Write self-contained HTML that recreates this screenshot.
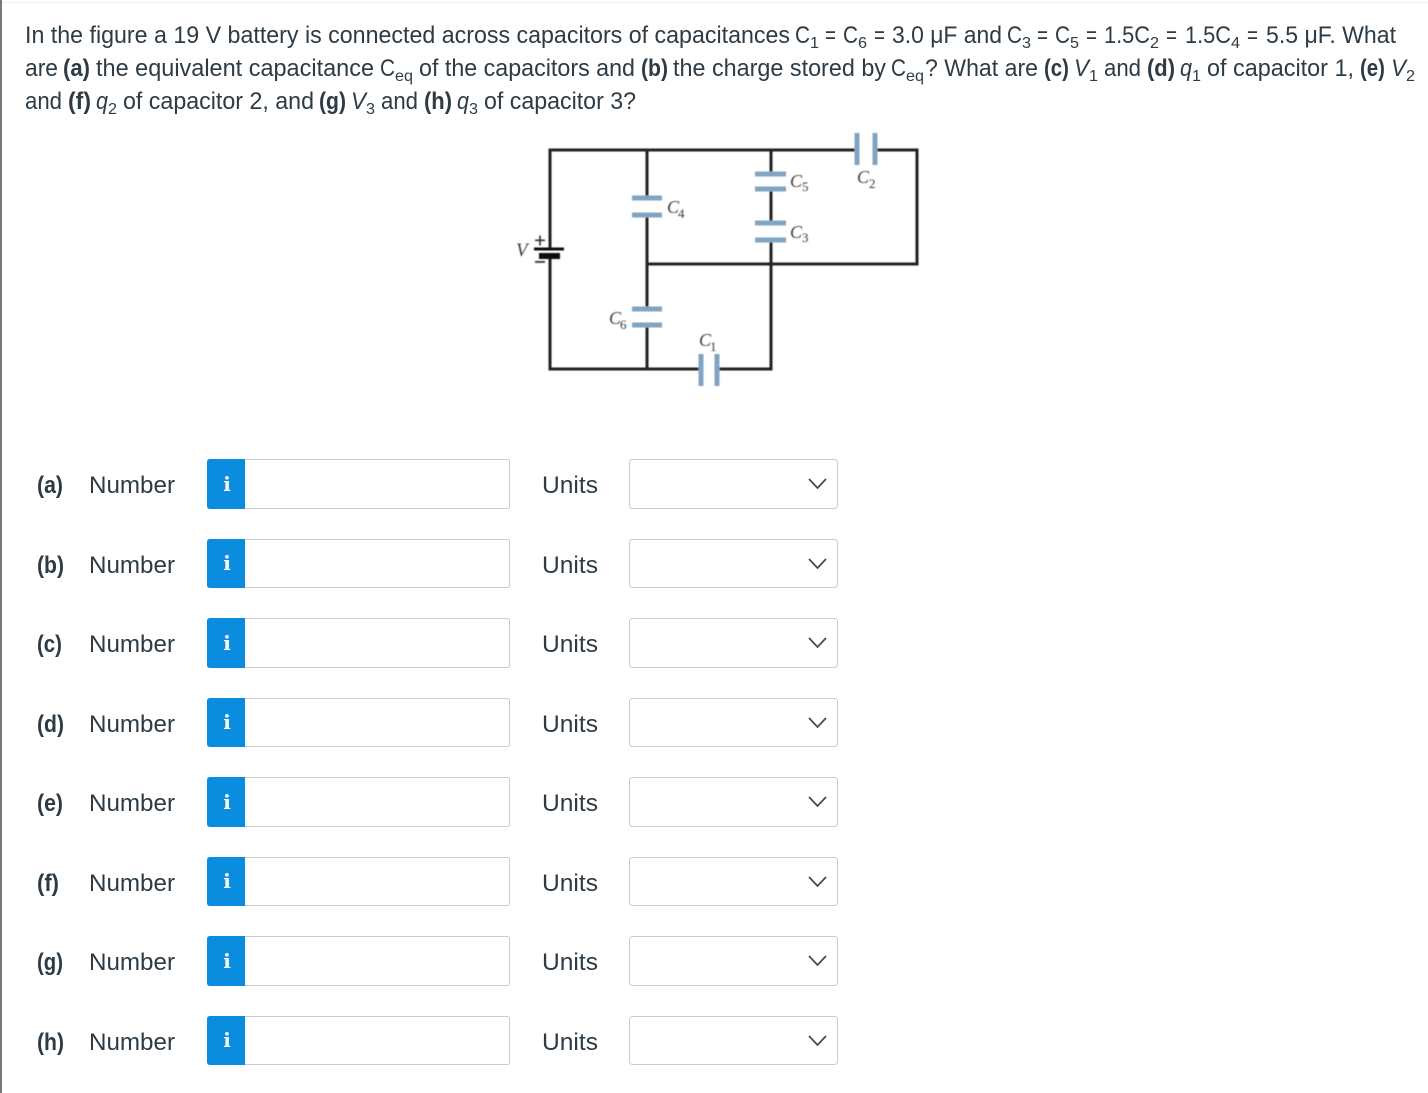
<!DOCTYPE html>
<html><head><meta charset="utf-8"><style>
html,body{margin:0;padding:0;background:#fff;width:1428px;height:1093px;overflow:hidden}
svg{display:block}
text{font-family:"Liberation Sans",sans-serif;fill:#2d3b45;font-size:24px}
.b{font-weight:700}.i{font-style:italic}
.s{font-size:16px}
.c{font-family:"Liberation Serif",serif;font-style:italic;font-size:18px;fill:#3a3a3a}
.cs{font-family:"Liberation Serif",serif;font-size:13px;fill:#3a3a3a}
.info{font-family:"DejaVu Serif",serif;font-weight:700;font-size:20px;fill:#fff}
.w{stroke:#222;stroke-width:3;fill:none}
.p{stroke:#7fa5c3;stroke-width:5;fill:none}
.box{fill:#fff;stroke:#ccc;stroke-width:1}
.ch{fill:none;stroke:#4a4a4a;stroke-width:1.8}
</style></head><body>
<svg width="1428" height="1093" viewBox="0 0 1428 1093" xmlns="http://www.w3.org/2000/svg">
<defs><filter id="bl" x="-5%" y="-5%" width="110%" height="110%"><feGaussianBlur stdDeviation="0.45"/></filter></defs>
<rect x="0" y="0" width="2" height="1093" fill="#777"/>
<rect x="2" y="2" width="1426" height="1" fill="#eee"/>

<!-- question -->
<text x="25" y="43" textLength="765" lengthAdjust="spacingAndGlyphs">In the figure a 19 V battery is connected across capacitors of capacitances</text>
<text x="795" y="43" textLength="15" lengthAdjust="spacingAndGlyphs">C</text><text class="s" x="810" y="48" textLength="9" lengthAdjust="spacingAndGlyphs">1</text>
<text x="825" y="43" textLength="11" lengthAdjust="spacingAndGlyphs">=</text>
<text x="843" y="43" textLength="15" lengthAdjust="spacingAndGlyphs">C</text><text class="s" x="858" y="48" textLength="9" lengthAdjust="spacingAndGlyphs">6</text>
<text x="874" y="43" textLength="11" lengthAdjust="spacingAndGlyphs">=</text>
<text x="892" y="43" textLength="110" lengthAdjust="spacingAndGlyphs">3.0 μF and</text>
<text x="1007" y="43" textLength="15" lengthAdjust="spacingAndGlyphs">C</text><text class="s" x="1022" y="48" textLength="9" lengthAdjust="spacingAndGlyphs">3</text>
<text x="1037" y="43" textLength="11" lengthAdjust="spacingAndGlyphs">=</text>
<text x="1055" y="43" textLength="15" lengthAdjust="spacingAndGlyphs">C</text><text class="s" x="1070" y="48" textLength="9" lengthAdjust="spacingAndGlyphs">5</text>
<text x="1086" y="43" textLength="11" lengthAdjust="spacingAndGlyphs">=</text>
<text x="1104" y="43" textLength="46" lengthAdjust="spacingAndGlyphs">1.5C</text><text class="s" x="1150" y="48" textLength="9" lengthAdjust="spacingAndGlyphs">2</text>
<text x="1166" y="43" textLength="11" lengthAdjust="spacingAndGlyphs">=</text>
<text x="1185" y="43" textLength="46" lengthAdjust="spacingAndGlyphs">1.5C</text><text class="s" x="1231" y="48" textLength="9" lengthAdjust="spacingAndGlyphs">4</text>
<text x="1247" y="43" textLength="11" lengthAdjust="spacingAndGlyphs">=</text>
<text x="1266" y="43" textLength="130" lengthAdjust="spacingAndGlyphs">5.5 μF. What</text>

<text x="25" y="76" textLength="33" lengthAdjust="spacingAndGlyphs">are</text>
<text class="b" x="63" y="76" textLength="27" lengthAdjust="spacingAndGlyphs">(a)</text>
<text x="96" y="76" textLength="278" lengthAdjust="spacingAndGlyphs">the equivalent capacitance</text>
<text x="380" y="76" textLength="15" lengthAdjust="spacingAndGlyphs">C</text><text class="s" x="395" y="81" textLength="18" lengthAdjust="spacingAndGlyphs">eq</text>
<text x="419" y="76" textLength="216" lengthAdjust="spacingAndGlyphs">of the capacitors and</text>
<text class="b" x="641" y="76" textLength="27" lengthAdjust="spacingAndGlyphs">(b)</text>
<text x="673" y="76" textLength="213" lengthAdjust="spacingAndGlyphs">the charge stored by</text>
<text x="891" y="76" textLength="15" lengthAdjust="spacingAndGlyphs">C</text><text class="s" x="906" y="81" textLength="18" lengthAdjust="spacingAndGlyphs">eq</text>
<text x="925" y="76" textLength="113" lengthAdjust="spacingAndGlyphs">? What are</text>
<text class="b" x="1044" y="76" textLength="25" lengthAdjust="spacingAndGlyphs">(c)</text>
<text class="i" x="1074" y="76" textLength="15" lengthAdjust="spacingAndGlyphs">V</text><text class="s" x="1089" y="81" textLength="9" lengthAdjust="spacingAndGlyphs">1</text>
<text x="1104" y="76" textLength="37" lengthAdjust="spacingAndGlyphs">and</text>
<text class="b" x="1147" y="76" textLength="28" lengthAdjust="spacingAndGlyphs">(d)</text>
<text class="i" x="1180" y="76" textLength="12" lengthAdjust="spacingAndGlyphs">q</text><text class="s" x="1192" y="81" textLength="9" lengthAdjust="spacingAndGlyphs">1</text>
<text x="1207" y="76" textLength="147" lengthAdjust="spacingAndGlyphs">of capacitor 1,</text>
<text class="b" x="1360" y="76" textLength="25" lengthAdjust="spacingAndGlyphs">(e)</text>
<text class="i" x="1391" y="76" textLength="15" lengthAdjust="spacingAndGlyphs">V</text><text class="s" x="1406" y="81" textLength="9" lengthAdjust="spacingAndGlyphs">2</text>

<text x="25" y="109" textLength="37" lengthAdjust="spacingAndGlyphs">and</text>
<text class="b" x="68" y="109" textLength="23" lengthAdjust="spacingAndGlyphs">(f)</text>
<text class="i" x="96" y="109" textLength="12" lengthAdjust="spacingAndGlyphs">q</text><text class="s" x="108" y="114" textLength="9" lengthAdjust="spacingAndGlyphs">2</text>
<text x="123" y="109" textLength="191" lengthAdjust="spacingAndGlyphs">of capacitor 2, and</text>
<text class="b" x="319" y="109" textLength="27" lengthAdjust="spacingAndGlyphs">(g)</text>
<text class="i" x="351" y="109" textLength="15" lengthAdjust="spacingAndGlyphs">V</text><text class="s" x="366" y="114" textLength="9" lengthAdjust="spacingAndGlyphs">3</text>
<text x="381" y="109" textLength="37" lengthAdjust="spacingAndGlyphs">and</text>
<text class="b" x="424" y="109" textLength="28" lengthAdjust="spacingAndGlyphs">(h)</text>
<text class="i" x="457" y="109" textLength="12" lengthAdjust="spacingAndGlyphs">q</text><text class="s" x="469" y="114" textLength="9" lengthAdjust="spacingAndGlyphs">3</text>
<text x="484" y="109" textLength="152" lengthAdjust="spacingAndGlyphs">of capacitor 3?</text>

<!-- circuit -->
<g filter="url(#bl)">
<path class="w" d="M857 150H550V249M550 256V369H701M717 369H771V264M647 150V198M647 215V309M647 325V369M771 150V174M771 189V223M771 240V264M647 264H917V150H876"/>
<path class="p" d="M857 133V165M875 133V165M701 354V386M717 354V386M632 198H662M632 215H662M755 174H786M755 189H786M755 223H786M755 240H786M632 309H662M632 325H662"/>
<rect x="534" y="247.500" width="30" height="3" fill="#111"/>
<rect x="539" y="253" width="21" height="6" fill="#111"/>
<rect x="535" y="239.500" width="10" height="1.600" fill="#333"/><rect x="539.200" y="235.500" width="1.600" height="10" fill="#333"/>
<rect x="535" y="261" width="10" height="1.800" fill="#333"/>
<text class="c" x="516" y="256" style="font-size:19px">V</text>
<text class="c" x="667" y="213" textLength="12" lengthAdjust="spacingAndGlyphs">C</text><text class="cs" x="678" y="218">4</text>
<text class="c" x="790" y="187" textLength="12" lengthAdjust="spacingAndGlyphs">C</text><text class="cs" x="802" y="191">5</text>
<text class="c" x="790" y="238" textLength="12" lengthAdjust="spacingAndGlyphs">C</text><text class="cs" x="802" y="242">3</text>
<text class="c" x="857" y="183" textLength="12" lengthAdjust="spacingAndGlyphs">C</text><text class="cs" x="869" y="188">2</text>
<text class="c" x="609" y="324" textLength="12" lengthAdjust="spacingAndGlyphs">C</text><text class="cs" x="620" y="329">6</text>
<text class="c" x="699" y="346" textLength="12" lengthAdjust="spacingAndGlyphs">C</text><text class="cs" x="710" y="351">1</text>
</g>

<!-- rows -->
<g transform="translate(0,459)"><text class="b" x="37" y="34" textLength="26" lengthAdjust="spacingAndGlyphs">(a)</text><text x="89" y="34" textLength="86" lengthAdjust="spacingAndGlyphs">Number</text><rect class="box" x="207.500" y=".5" width="302" height="49" rx="2"/><path d="M210 0H245V50H210a3 3 0 0 1-3-3V3a3 3 0 0 1 3-3z" fill="#0b8ddf"/><text class="info" x="227" y="32" text-anchor="middle">i</text><text x="542" y="34" textLength="56" lengthAdjust="spacingAndGlyphs">Units</text><rect class="box" x="629.500" y=".5" width="208" height="49" rx="3"/><path class="ch" d="M809 20L817.500 29L826 20"/></g>
<g transform="translate(0,539)"><text class="b" x="37" y="34" textLength="27" lengthAdjust="spacingAndGlyphs">(b)</text><text x="89" y="34" textLength="86" lengthAdjust="spacingAndGlyphs">Number</text><rect class="box" x="207.500" y=".5" width="302" height="48" rx="2"/><path d="M210 0H245V49H210a3 3 0 0 1-3-3V3a3 3 0 0 1 3-3z" fill="#0b8ddf"/><text class="info" x="227" y="31" text-anchor="middle">i</text><text x="542" y="34" textLength="56" lengthAdjust="spacingAndGlyphs">Units</text><rect class="box" x="629.500" y=".5" width="208" height="48" rx="3"/><path class="ch" d="M809 20L817.500 29L826 20"/></g>
<g transform="translate(0,618)"><text class="b" x="37" y="34" textLength="25" lengthAdjust="spacingAndGlyphs">(c)</text><text x="89" y="34" textLength="86" lengthAdjust="spacingAndGlyphs">Number</text><rect class="box" x="207.500" y=".5" width="302" height="49" rx="2"/><path d="M210 0H245V50H210a3 3 0 0 1-3-3V3a3 3 0 0 1 3-3z" fill="#0b8ddf"/><text class="info" x="227" y="32" text-anchor="middle">i</text><text x="542" y="34" textLength="56" lengthAdjust="spacingAndGlyphs">Units</text><rect class="box" x="629.500" y=".5" width="208" height="49" rx="3"/><path class="ch" d="M809 20L817.500 29L826 20"/></g>
<g transform="translate(0,698)"><text class="b" x="37" y="34" textLength="27" lengthAdjust="spacingAndGlyphs">(d)</text><text x="89" y="34" textLength="86" lengthAdjust="spacingAndGlyphs">Number</text><rect class="box" x="207.500" y=".5" width="302" height="48" rx="2"/><path d="M210 0H245V49H210a3 3 0 0 1-3-3V3a3 3 0 0 1 3-3z" fill="#0b8ddf"/><text class="info" x="227" y="31" text-anchor="middle">i</text><text x="542" y="34" textLength="56" lengthAdjust="spacingAndGlyphs">Units</text><rect class="box" x="629.500" y=".5" width="208" height="48" rx="3"/><path class="ch" d="M809 20L817.500 29L826 20"/></g>
<g transform="translate(0,777)"><text class="b" x="37" y="34" textLength="26" lengthAdjust="spacingAndGlyphs">(e)</text><text x="89" y="34" textLength="86" lengthAdjust="spacingAndGlyphs">Number</text><rect class="box" x="207.500" y=".5" width="302" height="49" rx="2"/><path d="M210 0H245V50H210a3 3 0 0 1-3-3V3a3 3 0 0 1 3-3z" fill="#0b8ddf"/><text class="info" x="227" y="32" text-anchor="middle">i</text><text x="542" y="34" textLength="56" lengthAdjust="spacingAndGlyphs">Units</text><rect class="box" x="629.500" y=".5" width="208" height="49" rx="3"/><path class="ch" d="M809 20L817.500 29L826 20"/></g>
<g transform="translate(0,857)"><text class="b" x="37" y="34" textLength="22" lengthAdjust="spacingAndGlyphs">(f)</text><text x="89" y="34" textLength="86" lengthAdjust="spacingAndGlyphs">Number</text><rect class="box" x="207.500" y=".5" width="302" height="48" rx="2"/><path d="M210 0H245V49H210a3 3 0 0 1-3-3V3a3 3 0 0 1 3-3z" fill="#0b8ddf"/><text class="info" x="227" y="31" text-anchor="middle">i</text><text x="542" y="34" textLength="56" lengthAdjust="spacingAndGlyphs">Units</text><rect class="box" x="629.500" y=".5" width="208" height="48" rx="3"/><path class="ch" d="M809 20L817.500 29L826 20"/></g>
<g transform="translate(0,936)"><text class="b" x="37" y="34" textLength="26" lengthAdjust="spacingAndGlyphs">(g)</text><text x="89" y="34" textLength="86" lengthAdjust="spacingAndGlyphs">Number</text><rect class="box" x="207.500" y=".5" width="302" height="49" rx="2"/><path d="M210 0H245V50H210a3 3 0 0 1-3-3V3a3 3 0 0 1 3-3z" fill="#0b8ddf"/><text class="info" x="227" y="32" text-anchor="middle">i</text><text x="542" y="34" textLength="56" lengthAdjust="spacingAndGlyphs">Units</text><rect class="box" x="629.500" y=".5" width="208" height="49" rx="3"/><path class="ch" d="M809 20L817.500 29L826 20"/></g>
<g transform="translate(0,1016)"><text class="b" x="37" y="34" textLength="27" lengthAdjust="spacingAndGlyphs">(h)</text><text x="89" y="34" textLength="86" lengthAdjust="spacingAndGlyphs">Number</text><rect class="box" x="207.500" y=".5" width="302" height="48" rx="2"/><path d="M210 0H245V49H210a3 3 0 0 1-3-3V3a3 3 0 0 1 3-3z" fill="#0b8ddf"/><text class="info" x="227" y="31" text-anchor="middle">i</text><text x="542" y="34" textLength="56" lengthAdjust="spacingAndGlyphs">Units</text><rect class="box" x="629.500" y=".5" width="208" height="48" rx="3"/><path class="ch" d="M809 20L817.500 29L826 20"/></g>
</svg>
</body></html>
